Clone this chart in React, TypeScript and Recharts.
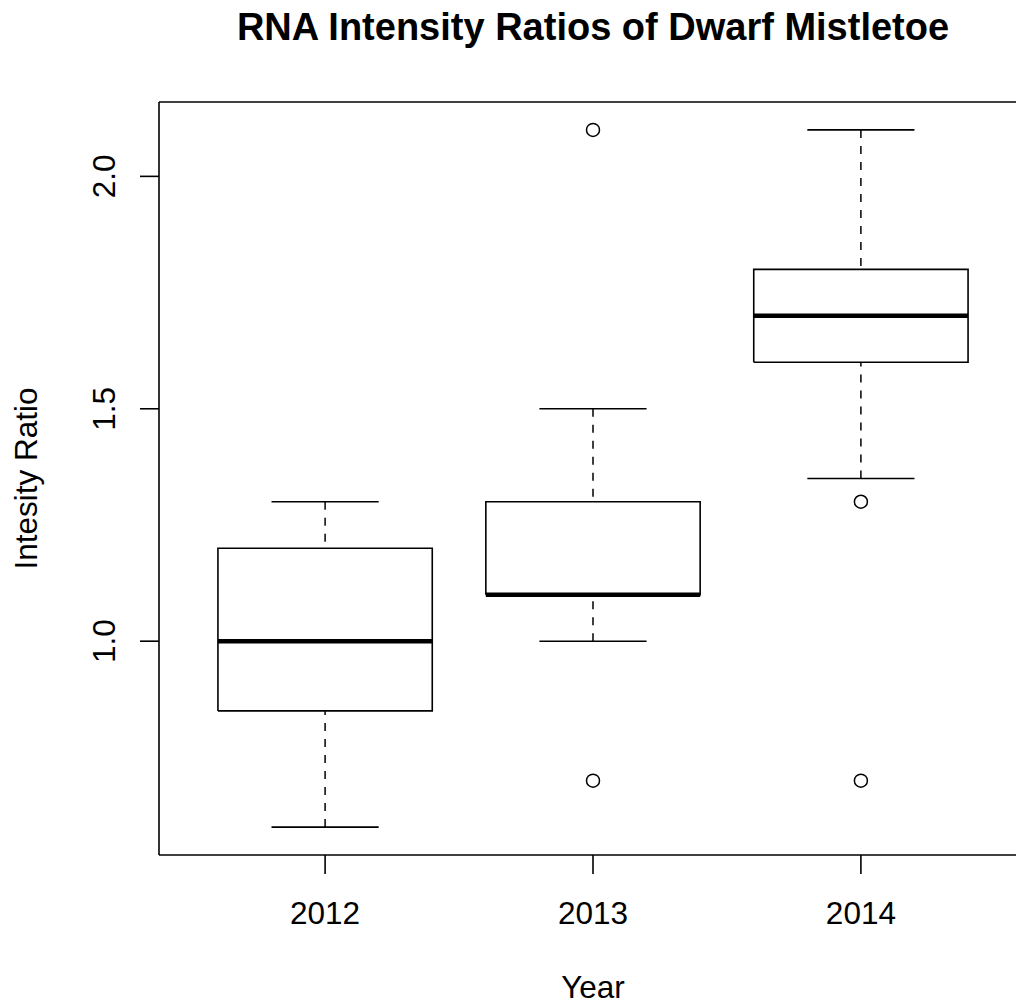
import React from 'react';
import { ScatterChart, Scatter, XAxis, YAxis, ReferenceLine } from 'recharts';

// box statistics per year
const years = ['2012', '2013', '2014'];
const whiskerLow = [0.6, 1.0, 1.35];
const q1 = [0.85, 1.1, 1.6];
const median = [1.0, 1.1, 1.7];
const q3 = [1.2, 1.3, 1.8];
const whiskerHigh = [1.3, 1.5, 2.1];
const outliers: number[][] = [[], [2.1, 0.7], [1.3, 0.7]];
const yTicks = [1.0, 1.5, 2.0];
const xTicks = [1, 2, 3];

const X_DOMAIN: [number, number] = [0.38, 3.62];
const Y_DOMAIN: [number, number] = [0.54, 2.16];
const BOX = 0.4; // half box width (boxwex 0.8)
const STAPLE = 0.2;

const font = '"Liberation Sans", Arial, Helvetica, sans-serif';
const hidden = () => <g />;

type Pt = { x: number; y: number };
type Part = { key: string; data: Pt[]; width: number; dash?: string };

const seg = (x1: number, y1: number, x2: number, y2: number): Pt[] => [
  { x: x1, y: y1 },
  { x: x2, y: y2 },
];

const parts: Part[] = [];
years.forEach((_, i) => {
  const x = i + 1;
  parts.push({
    key: `box${i}`,
    data: [
      { x: x - BOX, y: q1[i] },
      { x: x + BOX, y: q1[i] },
      { x: x + BOX, y: q3[i] },
      { x: x - BOX, y: q3[i] },
      { x: x - BOX, y: q1[i] },
    ],
    width: 1.6,
  });
  parts.push({ key: `lo${i}`, data: seg(x, whiskerLow[i], x, q1[i]), width: 1.5, dash: '8 8' });
  parts.push({ key: `hi${i}`, data: seg(x, whiskerHigh[i], x, q3[i]), width: 1.5, dash: '8 8' });
  parts.push({ key: `loCap${i}`, data: seg(x - STAPLE, whiskerLow[i], x + STAPLE, whiskerLow[i]), width: 1.6 });
  parts.push({ key: `hiCap${i}`, data: seg(x - STAPLE, whiskerHigh[i], x + STAPLE, whiskerHigh[i]), width: 1.6 });
  parts.push({ key: `med${i}`, data: seg(x - BOX, median[i], x + BOX, median[i]), width: 4.5 });
});

const outlierPts: Pt[] = outliers.flatMap((vals, i) => vals.map((v) => ({ x: i + 1, y: v })));

const YTick = ({ x, y, payload }: any) => (
  <text
    x={x - 25}
    y={y}
    transform={`rotate(-90, ${x - 25}, ${y})`}
    textAnchor="middle"
    fontSize={31.5}
    fontFamily={font}
    fill="#000"
  >
    {Number(payload.value).toFixed(1)}
  </text>
);

const XTick = ({ x, y, payload }: any) => (
  <text x={x} y={y + 50} textAnchor="middle" fontSize={31.5} fontFamily={font} fill="#000">
    {years[payload.value - 1]}
  </text>
);

const OutlierDot = ({ cx, cy }: any) => (
  <circle cx={cx} cy={cy} r={6.5} fill="none" stroke="#000" strokeWidth={1.5} />
);

export default function App() {
  return (
    <div
      style={{
        position: 'absolute',
        left: 0,
        top: 0,
        width: 1016,
        height: 1007,
        overflow: 'hidden',
        background: '#fff',
      }}
    >
      <ScatterChart width={1027} height={1007} margin={{ top: 102, right: 0, bottom: 52, left: 59 }}>
        <XAxis
          type="number"
          dataKey="x"
          domain={X_DOMAIN}
          allowDataOverflow
          ticks={xTicks}
          height={100}
          tickSize={19}
          tickMargin={0}
          axisLine={{ stroke: '#000', strokeWidth: 1.6 }}
          tickLine={{ stroke: '#000', strokeWidth: 1.6 }}
          tick={<XTick />}
        />
        <YAxis
          type="number"
          dataKey="y"
          domain={Y_DOMAIN}
          allowDataOverflow
          ticks={yTicks}
          width={100}
          tickSize={19}
          tickMargin={0}
          axisLine={{ stroke: '#000', strokeWidth: 1.6 }}
          tickLine={{ stroke: '#000', strokeWidth: 1.6 }}
          tick={<YTick />}
        />
        <ReferenceLine y={Y_DOMAIN[1]} stroke="#000" strokeWidth={1.6} />
        <ReferenceLine x={X_DOMAIN[1]} stroke="#000" strokeWidth={1.6} />
        {parts.map((p) => (
          <Scatter
            key={p.key}
            data={p.data}
            fill="#000"
            shape={hidden}
            line={{ stroke: '#000', strokeWidth: p.width, strokeDasharray: p.dash }}
            isAnimationActive={false}
          />
        ))}
        <Scatter data={outlierPts} fill="#000" shape={<OutlierDot />} isAnimationActive={false} />
      </ScatterChart>
      <svg
        width={1016}
        height={1007}
        style={{ position: 'absolute', left: 0, top: 0, pointerEvents: 'none' }}
      >
        <text x={593} y={40} textAnchor="middle" fontSize={38} fontWeight="bold" fontFamily={font} fill="#000">
          RNA Intensity Ratios of Dwarf Mistletoe
        </text>
        <text x={593} y={998} textAnchor="middle" fontSize={31.5} fontFamily={font} fill="#000">
          Year
        </text>
        <text
          x={37}
          y={478.5}
          transform="rotate(-90, 37, 478.5)"
          textAnchor="middle"
          fontSize={31.5}
          fontFamily={font}
          fill="#000"
        >
          Intesity Ratio
        </text>
      </svg>
    </div>
  );
}
